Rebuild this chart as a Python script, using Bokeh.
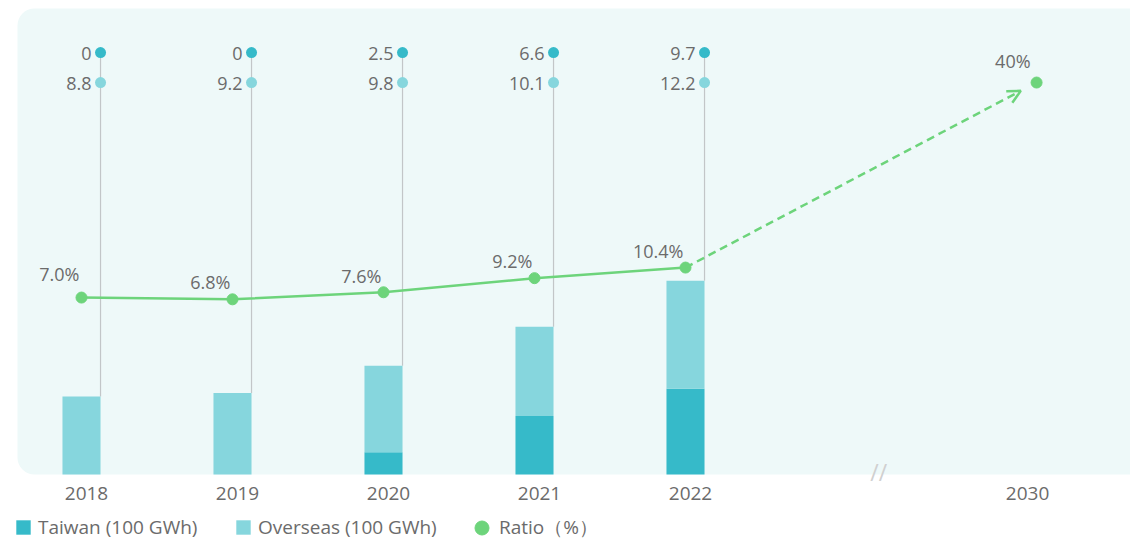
from bokeh.plotting import figure
from bokeh.models import (Range1d, ColumnDataSource, Arrow, OpenHead,
                          Legend, LegendItem)
from bokeh.core.properties import value
from bokeh.embed import file_html
from bokeh.resources import INLINE

# ---------------- data ----------------
years = ["2018", "2019", "2020", "2021", "2022"]
taiwan = [0, 0, 2.5, 6.6, 9.7]          # 100 GWh
overseas = [8.8, 9.2, 9.8, 10.1, 12.2]  # 100 GWh
ratio = [7.0, 6.8, 7.6, 9.2, 10.4]      # %
target_year = "2030"
target_ratio = 40                        # %

# ---------------- layout / style constants ----------------
W, H = 1130, 539
slots = [0, 1, 2, 3, 4]
TARGET_SLOT = 6.325
BREAK_SLOT = 5.28
BAR_W = 0.252
X0, X1 = -0.5364, 6.947
Y0, Y1 = -7.345, 53.56
R0, R1 = -20.43, 40.68
PANEL_L, PANEL_T = -0.424, 52.66
ROW_TW = 47.68
ROW_OS = 44.29
ARROW_FRAC = 0.955
RATIO_LBL_DX = [-2, -2, -2, -2, -2, -6]
RATIO_LBL_DY = [-24, -17, -16, -17, -17, -22]
YEAR_LBL_DX = [5, 5, 5, 5, 5, -9]

PANEL = "#eef9f9"
TW_C = "#36bac9"
OS_C = "#86d6dd"
GREEN = "#6dd47b"
STEM = "#c2c6c8"
TXT = "#6b6b6b"
FONT = "Open Sans"

totals = [a + b for a, b in zip(taiwan, overseas)]
stem_x = [s + BAR_W / 2 for s in slots]

src = ColumnDataSource(dict(
    x=slots, tw=taiwan, total=totals, stem_x=stem_x,
    tw_lbl=[f"{v:g}" for v in taiwan],
    os_lbl=[f"{v:g}" for v in overseas],
))

# 2030 value is off-scale: drawn at the height of the top label row
target_disp = R0 + (ROW_OS - Y0) / (Y1 - Y0) * (R1 - R0)
rsrc = ColumnDataSource(dict(
    x=slots + [TARGET_SLOT], y=ratio + [target_disp],
    lbl=[f"{v:.1f}%" for v in ratio] + [f"{target_ratio}%"],
    dx=RATIO_LBL_DX, dy=RATIO_LBL_DY,
))
xsrc = ColumnDataSource(dict(
    x=slots + [TARGET_SLOT], lbl=years + [target_year], dx=YEAR_LBL_DX,
))

p = figure(width=W, height=H, x_range=Range1d(X0, X1), y_range=Range1d(Y0, Y1),
           output_backend="svg", toolbar_location=None,
           x_axis_location=None, y_axis_location=None,
           min_border=0, outline_line_color=None,
           background_fill_color="white", border_fill_color="white")
p.extra_y_ranges = {"ratio": Range1d(R0, R1)}
p.xgrid.visible = False
p.ygrid.visible = False

# panel background (rounded left corners)
p.quad(left=PANEL_L, right=X1 + 1, bottom=0, top=PANEL_T, fill_color=PANEL,
       line_color=None, border_radius=17)

# stems
p.segment(x0="stem_x", y0=ROW_TW, x1="stem_x", y1="total", source=src,
          line_color=STEM, line_width=1.2)

# stacked bars
r_tw = p.vbar(x="x", width=BAR_W, bottom=0, top="tw", source=src,
              fill_color=TW_C, line_color=None)
r_os = p.vbar(x="x", width=BAR_W, bottom="tw", top="total", source=src,
              fill_color=OS_C, line_color=None)

# top dots and labels
p.scatter(x="stem_x", y=ROW_TW, source=src, size=11, fill_color=TW_C, line_color=None)
p.scatter(x="stem_x", y=ROW_OS, source=src, size=11, fill_color=OS_C, line_color=None)
p.text(x="stem_x", y=ROW_TW, text="tw_lbl", source=src, text_align="right",
       text_baseline="middle", x_offset=-9, y_offset=1, text_font=value(FONT),
       text_font_size="18px", text_color=TXT)
p.text(x="stem_x", y=ROW_OS, text="os_lbl", source=src, text_align="right",
       text_baseline="middle", x_offset=-9, y_offset=1, text_font=value(FONT),
       text_font_size="18px", text_color=TXT)

# ratio line + dashed arrow to target
p.line(slots, ratio, y_range_name="ratio", line_color=GREEN, line_width=2.5)
ex = slots[-1] + ARROW_FRAC * (TARGET_SLOT - slots[-1])
ey = ratio[-1] + ARROW_FRAC * (target_disp - ratio[-1])
p.add_layout(Arrow(x_start=slots[-1], y_start=ratio[-1], x_end=ex, y_end=ey,
                   y_range_name="ratio", line_color=GREEN, line_width=2.5,
                   line_dash="8 5",
                   end=OpenHead(size=13, line_color=GREEN, line_width=2.5)))
r_ratio = p.scatter(x="x", y="y", source=rsrc, y_range_name="ratio", size=11,
                    fill_color=GREEN, line_color=GREEN)
p.text(x="x", y="y", text="lbl", source=rsrc, y_range_name="ratio", text_align="right",
       text_baseline="alphabetic", x_offset="dx", y_offset="dy", text_font=value(FONT),
       text_font_size="18px", text_color=TXT)

# x labels
p.text(x="x", y=0, text="lbl", source=xsrc, text_align="center",
       text_baseline="alphabetic", x_offset="dx", y_offset=19, text_font=value(FONT),
       text_font_size="19px", text_color=TXT)

# axis break mark
p.text(x=[BREAK_SLOT], y=[0], text=["//"], text_align="center", text_baseline="middle",
       y_offset=-2, text_color="#d0d0d0", text_font_size="23px", text_font=value(FONT))

# legends
def make_legend(label, rend, loc, gsize, standoff):
    return Legend(items=[LegendItem(label=label, renderers=[rend])], location=loc,
                  orientation="horizontal", glyph_width=gsize, glyph_height=gsize,
                  label_standoff=standoff, label_height=24, padding=0, margin=0,
                  border_line_color=None, background_fill_alpha=0,
                  label_text_font=FONT, label_text_font_size="19px",
                  label_text_color=TXT)

p.add_layout(make_legend("Taiwan (100 GWh)", r_tw, (14, -1), 18, 6))
p.add_layout(make_legend("Overseas (100 GWh)", r_os, (234, -1), 18, 6))
p.add_layout(make_legend("Ratio（%）", r_ratio, (464, -6), 35, 0))

open("out.html", "w").write(file_html(p, INLINE))
